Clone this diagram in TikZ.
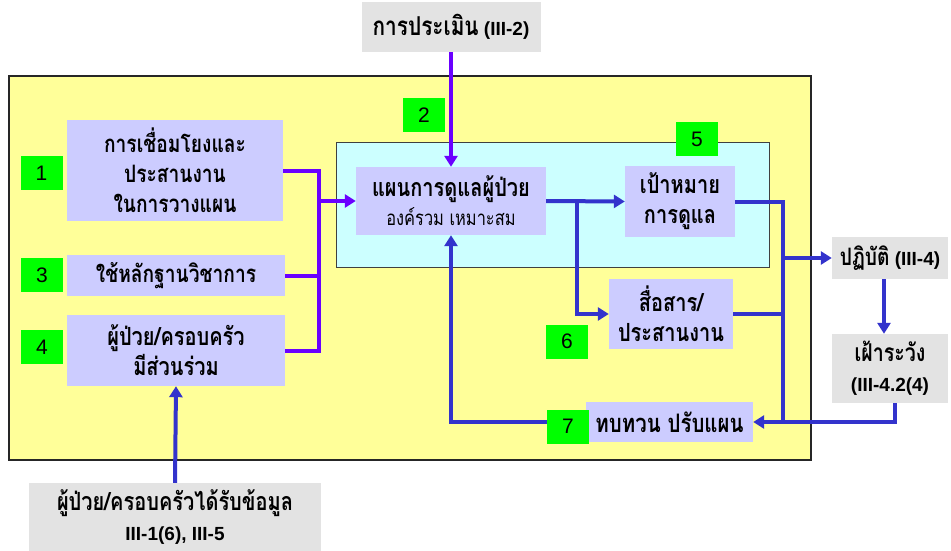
\documentclass[tikz,border=0pt]{standalone}
\usepackage{fontspec}
\setmainfont{Liberation Sans}
\newfontfamily\thai[Script=Thai,FakeStretch=0.8]{Loma}
\usetikzlibrary{arrows.meta}
\definecolor{yel}{HTML}{FFFF99}
\definecolor{cyn}{HTML}{CCFFFF}
\definecolor{lav}{HTML}{CCCCFF}
\definecolor{gry}{HTML}{E3E3E3}
\definecolor{grn}{HTML}{00FF00}
\definecolor{purp}{HTML}{6A00FF}
\definecolor{blu}{HTML}{3333CC}
\begin{document}
\begin{tikzpicture}[x=1pt,y=-1pt,
  box/.style={fill=lav, inner sep=0pt, align=center, text=black, font=\thai\bfseries\fontsize{25}{30}\selectfont},
  gbox/.style={fill=gry, inner sep=0pt, align=center, text=black, font=\bfseries\fontsize{19}{30}\selectfont},
  num/.style={fill=grn, inner sep=0pt, minimum width=42pt, minimum height=34pt, font=\fontsize{21}{21}\selectfont},
  pline/.style={draw=purp, line width=4pt},
  bline/.style={draw=blu, line width=4pt},
  tip/.style={-{Triangle[width=13pt,length=11pt]}}
]
\useasboundingbox (0,0) rectangle (951,551);
% containers
\node[draw=black!85, line width=1.2pt, fill=yel, minimum width=802pt, minimum height=384pt, inner sep=0pt] (outer) at (410,268) {};
\node[draw=black!75, line width=1pt, fill=cyn, minimum width=433pt, minimum height=125pt, inner sep=0pt] (inner) at (552.5,204.5) {};
% boxes
\node[gbox, minimum width=179pt, minimum height=50pt] (top) at (451,27) {{\thai\fontsize{26}{30}\selectfont การประเมิน} (III-2)};
\node[box, minimum width=216pt, minimum height=101pt, font=\thai\bfseries\fontsize{24}{30}\selectfont] (b1) at (175,170.5) {การเชื่อมโยงและ\\ประสานงาน\\ในการวางแผน};
\node[box, minimum width=190pt, minimum height=68pt, font=\thai\bfseries\fontsize{25}{29}\selectfont] (plan) at (451,201) {แผนการดูแลผู้ป่วย\\{\mdseries\fontsize{20.5}{24}\selectfont องค์รวม เหมาะสม}};
\node[box, minimum width=110pt, minimum height=71pt] (goal) at (680,201.5) {เป้าหมาย\\การดูแล};
\node[box, minimum width=218pt, minimum height=41pt, font=\thai\bfseries\fontsize{24}{30}\selectfont] (b3) at (176,275.5) {ใช้หลักฐานวิชาการ};
\node[box, minimum width=218pt, minimum height=71pt] (b4) at (176,350.5) {ผู้ป่วย/ครอบครัว\\มีส่วนร่วม};
\node[gbox, minimum width=292pt, minimum height=68pt] (bottom) at (175,517) {{\thai\fontsize{25}{30}\selectfont ผู้ป่วย/ครอบครัวได้รับข้อมูล}\\III-1(6), III-5};
\node[box, minimum width=124pt, minimum height=70pt] (comm) at (671,314) {สื่อสาร/\\ประสานงาน};
\node[box, minimum width=167pt, minimum height=40pt, font=\thai\bfseries\fontsize{25.5}{30}\selectfont] (review) at (669.5,422) {ทบทวน ปรับแผน};
\node[gbox, minimum width=116pt, minimum height=42pt] (act) at (890,258) {{\thai\fontsize{24}{30}\selectfont ปฏิบัติ} (III-4)};
\node[gbox, minimum width=116pt, minimum height=69pt] (watch) at (890,368.5) {{\thai\fontsize{24.5}{30}\selectfont เฝ้าระวัง}\\(III-4.2(4)};
% junctions
\coordinate (jl) at (319,201);
\coordinate (jm) at (577,201);
\coordinate (jr) at (783,201);
\coordinate (jb) at (783,422);
% purple connectors
\draw[pline] (b1.east) -| (jl);
\draw[pline] (b3.east) -| (jl);
\draw[pline] (b4.east) -| (jl);
\draw[pline, tip] (jl) -- (plan.west);
\draw[pline, tip] (top.south) -- (plan.north);
% blue connectors
\draw[bline, tip] (plan.east) -- (goal.west);
\draw[bline, tip] (jm) |- (comm.west);
\draw[bline] (goal.east) -| (jb);
\draw[bline] (comm.east) -- (comm.east -| jr);
\draw[bline, tip] (act.west -| jr) -- (act.west);
\draw[bline, tip] ([xshift=-6pt]act.south) -- ([xshift=-6pt]watch.north);
\draw[bline, tip] ([xshift=5pt]watch.south) |- (review.east);
\draw[bline, tip] (review.west) -| (plan.south);
\draw[bline, tip] (bottom.north) -- (b4.south);
% numbers
\node[num] (n1) at (41.5,173) {1};
\node[num] (n2) at (424,115) {2};
\node[num] (n3) at (42,275) {3};
\node[num] (n4) at (42,347) {4};
\node[num] (n5) at (697,139) {5};
\node[num] (n6) at (567,341.5) {6};
\node[num] (n7) at (568,426.5) {7};
\end{tikzpicture}
\end{document}
